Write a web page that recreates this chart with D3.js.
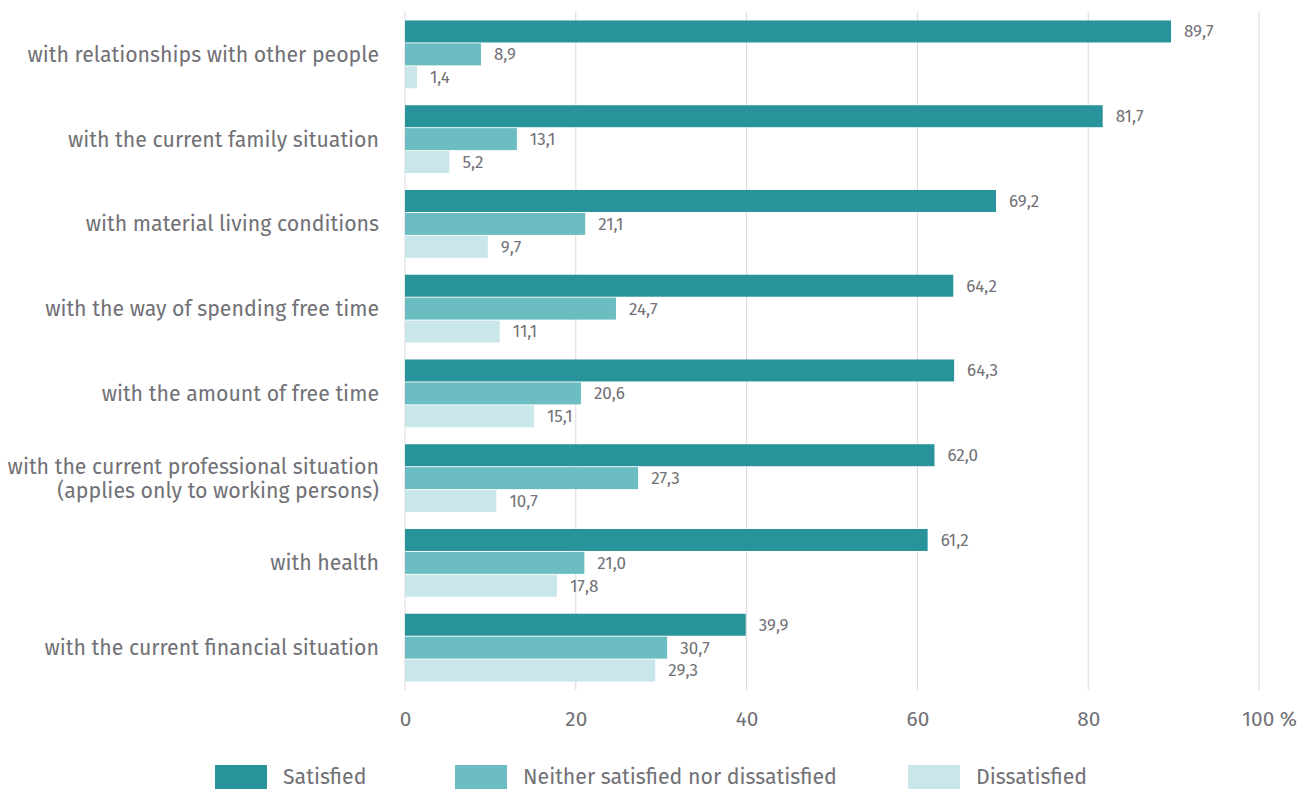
<!DOCTYPE html>
<html><head><meta charset="utf-8">
<script src="https://cdn.jsdelivr.net/npm/d3@7"></script>
<style>body{margin:0;background:#fff}svg{display:block}</style>
</head><body>
<svg id="c" width="1300" height="789"></svg>
<script>
const categories = [
  ["with relationships with other people"],
  ["with the current family situation"],
  ["with material living conditions"],
  ["with the way of spending free time"],
  ["with the amount of free time"],
  ["with the current professional situation","(applies only to working persons)"],
  ["with health"],
  ["with the current financial situation"]
];
const seriesNames = ["Satisfied","Neither satisfied nor dissatisfied","Dissatisfied"];
const satisfied = [89.7,81.7,69.2,64.2,64.3,62.0,61.2,39.9];
const neither = [8.9,13.1,21.1,24.7,20.6,27.3,21.0,30.7];
const dissatisfied = [1.4,5.2,9.7,11.1,15.1,10.7,17.8,29.3];
const ticks = [0,20,40,60,80,100];
const colors = ["#29939b","#6bbdc1","#c9e7ea"];

const font = "'Fira Sans','Noto Sans','Open Sans',sans-serif";
const txt = "#717176";
const svg = d3.select("#c");
const x = d3.scaleLinear().domain([0,100]).range([405,1259]);
const y = d3.scaleBand().domain(d3.range(categories.length)).range([12,690]).paddingInner(0.2).paddingOuter(0.1);
const ys = d3.scaleBand().domain([0,1,2]).range([0,y.bandwidth()]).paddingInner(0.04);
const series = [satisfied, neither, dissatisfied];

// grid
svg.append("g").selectAll("line").data(ticks).join("line")
  .attr("x1",d=>x(d)).attr("x2",d=>x(d)).attr("y1",12).attr("y2",690)
  .attr("stroke","#d9d9d9").attr("stroke-width",1);

// axis labels
const ax = svg.append("g").attr("transform","translate(0,690)")
  .call(d3.axisBottom(x).tickValues(ticks).tickSize(0).tickPadding(21).tickFormat(d=>d===100?"100 %":d));
ax.select(".domain").remove();
ax.selectAll("text").attr("font-family",font).attr("font-size",20.8).attr("fill",txt)
  .attr("dx",d=>d===100?10:0);

// bars
const g = svg.append("g");
categories.forEach((c,i)=>{
  series.forEach((s,j)=>{
    const yy = y(i)+ys(j);
    g.append("rect").attr("x",x(0)).attr("y",yy).attr("width",x(s[i])-x(0)).attr("height",ys.bandwidth())
      .attr("fill",colors[j]);
    g.append("text").attr("x",x(s[i])+13).attr("y",yy+ys.bandwidth()/2).attr("dy","0.35em")
      .attr("font-family",font).attr("font-size",17).attr("fill",txt)
      .text(s[i].toFixed(1).replace(".",","));
  });
  const t = svg.append("text").attr("x",379).attr("text-anchor","end")
    .attr("font-family",font).attr("font-size",21.3).attr("fill",txt);
  const cy = y(i)+y.bandwidth()/2;
  const n = c.length;
  c.forEach((line,k)=>{
    t.append("tspan").attr("x",379).attr("y",cy+(k-(n-1)/2)*24).attr("dy","0.35em").text(line);
  });
});

// legend
const lx = [215,455,908];
seriesNames.forEach((n,j)=>{
  svg.append("rect").attr("x",lx[j]).attr("y",765).attr("width",52).attr("height",26).attr("fill",colors[j]);
  svg.append("text").attr("x",lx[j]+68).attr("y",777).attr("dy","0.35em")
    .attr("font-family",font).attr("font-size",21.3).attr("fill",txt).text(n);
});
</script>
</body></html>
